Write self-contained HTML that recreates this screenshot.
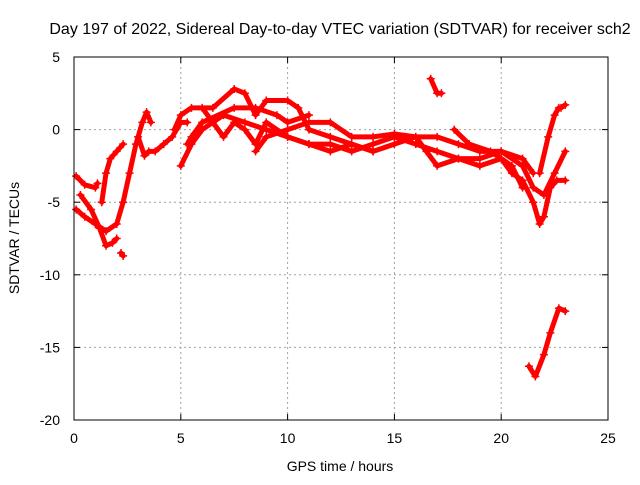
<!DOCTYPE html>
<html><head><meta charset="utf-8"><style>
body{margin:0;background:#fff}
svg text{font-family:"Liberation Sans",sans-serif;fill:#000}
</style></head><body>
<svg width="640" height="480">
<rect width="640" height="480" fill="#fff"/>
<text x="340" y="34" font-size="16" text-anchor="middle">Day 197 of 2022, Sidereal Day-to-day VTEC variation (SDTVAR) for receiver sch2</text>
<g id="grid"></g>
<g id="axes"></g>
<g id="series"></g>
<rect x="74" y="57" width="534" height="363" fill="none" stroke="#000"/>
<text x="340" y="471" font-size="14" text-anchor="middle">GPS time / hours</text>
<text transform="translate(19,238) rotate(-90)" font-size="14" text-anchor="middle">SDTVAR / TECUs</text>
</svg>
<script>
const xTicks=[0,5,10,15,20,25];
const yTicks=[5,0,-5,-10,-15,-20];
const tracks=[
[[0.1,-3.2],[0.5,-3.8],[1,-4],[1.1,-3.7]],
[[0.1,-5.5],[0.5,-6],[1,-6.5],[1.5,-7],[2,-6.5],[2.3,-5],[2.6,-3],[2.9,-1],[3.2,0.5],[3.4,1.2],[3.6,0.5]],
[[0.3,-4.5],[0.8,-5.5],[1.2,-6.8],[1.5,-8],[1.8,-7.8],[2,-7.5]],
[[1.3,-5],[1.5,-3],[1.7,-2],[2,-1.5],[2.3,-1]],
[[2.2,-8.5],[2.3,-8.7]],
[[3,-0.5],[3.3,-1.8],[3.5,-1.5],[3.8,-1.5],[4.2,-1],[4.6,-0.5],[5,0.5],[5.3,0.5]],
[[4.7,0],[5,1],[5.5,1.5],[6.5,1.5],[7.5,2.8],[8,2.5],[8.5,1],[9,2],[10,2],[10.5,1.5],[11,0],[12,-0.5],[13,-1],[14,-1.5]],
[[5,-2.5],[5.5,-1],[6,0],[7,1],[8,0.5],[9,0],[10,-0.5],[11,-1],[12,-1],[13,-1.5],[14,-1],[15,-0.5],[16,-1],[17,-1.5],[18,-2],[19,-2],[20,-1.5],[21,-2.5],[21.5,-4],[22,-4.5],[22.5,-3],[23,-1.5]],
[[6,1.5],[6.5,0.5],[7,-0.5],[7.5,0.5],[8,0],[8.5,-1],[9,0.5],[10,-0.5],[11,-1],[12,-1.5],[13,-1],[14,-1.5],[15,-1],[16,-0.5],[16.5,-1.5],[17,-2.5],[18,-2],[19,-2.5],[20,-2],[20.5,-3],[21,-3.5],[21.5,-5],[21.8,-6.5],[22,-6],[22.3,-4],[22.6,-3.5],[23,-3.5]],
[[8.5,-1.5],[9,-0.5],[10,0],[11,0.5],[12,0.5],[13,-0.5],[14,-0.5],[15,-0.3],[16,-0.5],[17,-0.5],[18,-1],[19,-1.5],[20,-1.5],[21,-2],[21.5,-3]],
[[5.3,-1],[5.5,-0.5],[6,0.5],[7.5,1.5],[8.5,1.5],[9.5,1],[10,0.5],[11,1]],
[[16.7,3.5],[17,2.5],[17.2,2.5]],
[[17.8,0],[18.5,-1],[19.5,-1.5],[20.5,-2.5],[21,-4]],
[[21.8,-3],[22.2,-0.5],[22.5,1],[22.7,1.5]],
[[22.8,1.5],[23,1.7]],
[[21.3,-16.3],[21.6,-17],[22,-15.5],[22.3,-14],[22.7,-12.3],[23,-12.5]]
];
const NS="http://www.w3.org/2000/svg";
const X0=74,X1=608,Y0=57,Y1=420;
function sx(h){return X0+(h-0)/(25-0)*(X1-X0);}
function sy(v){return Y0+(5-v)/(5-(-20))*(Y1-Y0);}
function mk(tag,attrs,parent){const e=document.createElementNS(NS,tag);for(const k in attrs)e.setAttribute(k,attrs[k]);parent.appendChild(e);return e;}
const grid=document.getElementById('grid'),axes=document.getElementById('axes'),series=document.getElementById('series');
xTicks.forEach(t=>{const x=sx(t);
 if(t>0&&t<25){const l=mk('line',{x1:x,x2:x,y1:Y0,y2:Y1,stroke:'#a0a0a0','stroke-dasharray':'2,3'},grid);
 
 }
 mk('line',{x1:x,x2:x,y1:Y1,y2:Y1-6,stroke:'#000'},axes);mk('line',{x1:x,x2:x,y1:Y0,y2:Y0+6,stroke:'#000'},axes);
 const tx=mk('text',{x:x,y:Y1+23,'font-size':14,'text-anchor':'middle'},axes);tx.textContent=t;
 
 
});
yTicks.forEach(t=>{const y=sy(t);
 if(t<5&&t>-20){const l=mk('line',{x1:X0,x2:X1,y1:y,y2:y,stroke:'#a0a0a0','stroke-dasharray':'2,3'},grid);
 
 }
 mk('line',{x1:X0,x2:X0+6,y1:y,y2:y,stroke:'#000'},axes);mk('line',{x1:X1,x2:X1-6,y1:y,y2:y,stroke:'#000'},axes);
 const tx=mk('text',{x:X0-14,y:y+5,'font-size':14,'text-anchor':'end'},axes);tx.textContent=t;
 
 
});
tracks.forEach((tr,i)=>{
 const g=mk('g',{},series);
 
 
 mk('polyline',{points:tr.map(p=>sx(p[0])+','+sy(p[1])).join(' '),fill:'none',stroke:'#f00','stroke-width':5,'stroke-linejoin':'round','stroke-linecap':'round'},g);
 tr.forEach(p=>{const x=sx(p[0]),y=sy(p[1]);
  mk('path',{d:`M${x-4},${y}H${x+4}M${x},${y-4}V${y+4}`,stroke:'#f00','stroke-width':1.5},g);});
});
</script>
</body></html>
